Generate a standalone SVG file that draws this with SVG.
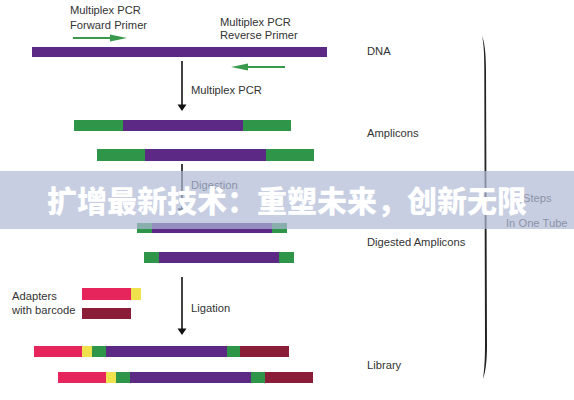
<svg xmlns="http://www.w3.org/2000/svg" width="574" height="400" viewBox="0 0 574 400">
<style>
.t{font-family:"Liberation Sans",Arial,sans-serif;font-size:11.2px;fill:#333}
.pu{fill:#5c2a85}.gr{fill:#2f9548}.pk{fill:#e6255c}.ye{fill:#f0e24c}.dr{fill:#8a1e38}
.ga{stroke:#3a9a4c;stroke-width:2;fill:none}
.bk{stroke:#111;stroke-width:1.6;fill:none}
</style>
<rect width="574" height="400" fill="#ffffff"/>
<g id="connectors">
  <line class="ga" x1="73" y1="38" x2="112" y2="38"/>
  <polygon points="127,38 110,34.5 110,41.5" fill="#3a9a4c"/>
  <line class="ga" x1="285" y1="67" x2="246" y2="67"/>
  <polygon points="231,67 248,63.5 248,70.5" fill="#3a9a4c"/>
  <line class="bk" x1="182" y1="61" x2="182" y2="106"/>
  <polygon points="182,111 177.5,104.5 186.5,104.5" fill="#111"/>
  <line class="bk" x1="182" y1="164" x2="182" y2="210"/>
  <polygon points="182,215 177.5,208.5 186.5,208.5" fill="#111"/>
  <line class="bk" x1="182" y1="277" x2="182" y2="330"/>
  <polygon points="182,335 177.5,328.5 186.5,328.5" fill="#111"/>
  <path d="M482,36 C484.5,42 486,52 486,72 L487,345 C487,362 485.5,372 483,379 C484.3,370 485,360 485,345 L484.3,72 C484.3,54 483.8,44 482,36 Z" fill="#222"/>
</g>
<g id="primer-labels">
  <text class="t" x="70" y="14">Multiplex PCR</text>
  <text class="t" x="70" y="29">Forward Primer</text>
  <text class="t" x="220" y="26">Multiplex PCR</text>
  <text class="t" x="220" y="39">Reverse Primer</text>
</g>
<g id="dna">
  <rect class="pu" x="32" y="47" width="295" height="10"/>
  <text class="t" x="367" y="55">DNA</text>
</g>
<g id="step-pcr"><text class="t" x="191" y="94">Multiplex PCR</text></g>
<g id="amplicons">
  <rect class="gr" x="74" y="120" width="49" height="11"/>
  <rect class="pu" x="123" y="120" width="120" height="11"/>
  <rect class="gr" x="243" y="120" width="48" height="11"/>
  <rect class="gr" x="97" y="149" width="48" height="12"/>
  <rect class="pu" x="145" y="149" width="121" height="12"/>
  <rect class="gr" x="266" y="149" width="48" height="12"/>
  <text class="t" x="367" y="137">Amplicons</text>
</g>
<g id="step-digestion"><text class="t" x="191" y="189">Digestion</text></g>
<g id="digested">
  <rect class="gr" x="137" y="223" width="15" height="10"/>
  <rect class="pu" x="152" y="223" width="120" height="10"/>
  <rect class="gr" x="272" y="223" width="15" height="10"/>
  <rect class="gr" x="144" y="252" width="15" height="11"/>
  <rect class="pu" x="159" y="252" width="120" height="11"/>
  <rect class="gr" x="279" y="252" width="15" height="11"/>
  <text class="t" x="367" y="246">Digested Amplicons</text>
</g>
<g id="adapters">
  <rect class="pk" x="82" y="288" width="49" height="12"/>
  <rect class="ye" x="131" y="288" width="10" height="12"/>
  <rect class="dr" x="82" y="308" width="49" height="11"/>
  <text class="t" x="12" y="300">Adapters</text>
  <text class="t" x="12" y="314">with barcode</text>
</g>
<g id="step-ligation"><text class="t" x="191" y="312">Ligation</text></g>
<g id="library">
  <rect class="pk" x="34" y="346" width="48" height="11"/>
  <rect class="ye" x="82" y="346" width="10" height="11"/>
  <rect class="gr" x="92" y="346" width="14" height="11"/>
  <rect class="pu" x="106" y="346" width="121" height="11"/>
  <rect class="gr" x="227" y="346" width="13" height="11"/>
  <rect class="dr" x="240" y="346" width="49" height="11"/>
  <rect class="pk" x="58" y="372" width="48" height="11"/>
  <rect class="ye" x="106" y="372" width="10" height="11"/>
  <rect class="gr" x="116" y="372" width="14" height="11"/>
  <rect class="pu" x="130" y="372" width="121" height="11"/>
  <rect class="gr" x="251" y="372" width="14" height="11"/>
  <rect class="dr" x="265" y="372" width="48" height="11"/>
  <text class="t" x="367" y="369">Library</text>
</g>
<g id="one-tube">
  <text class="t" x="523" y="202">Steps</text>
  <text class="t" x="506" y="227">In One Tube</text>
</g>
<g id="banner">
  <rect x="0" y="171" width="574" height="58" fill="rgb(175,185,213)" fill-opacity="0.7"/>
  <text x="287" y="212" text-anchor="middle" font-family="'Noto Sans CJK SC',sans-serif" font-weight="900" font-size="30" fill="#ffffff">扩增最新技术：重塑未来，创新无限</text>
</g>
</svg>
